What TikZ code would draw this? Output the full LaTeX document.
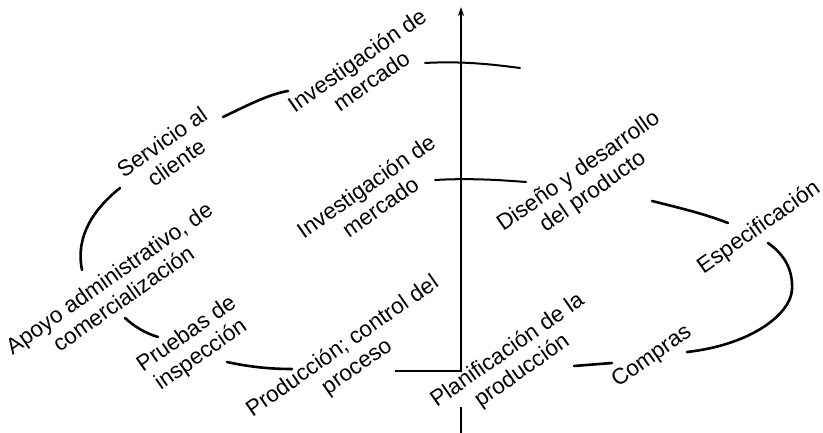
\documentclass[tikz,border=0pt]{standalone}
\usepackage{fontspec}
\setmainfont{Liberation Sans}
\usetikzlibrary{arrows.meta}
\tikzset{
  etapa/.style={rotate=35,align=center,inner sep=0pt,
    font=\fontsize{22.5}{25}\selectfont},
  tramo/.style={line width=2.6pt,line cap=round},
  eje/.style={line width=1.6pt}
}
\begin{document}
\begin{tikzpicture}[x=1pt,y=-1pt]
   \useasboundingbox (0,0) rectangle (823,433);
   % etapas de la espiral
   \node[etapa] (invA) at (364,70)  {Investigación de\\mercado};
   \node[etapa] (invB) at (373,196) {Investigación de\\mercado};
   \node[etapa] (dis)  at (586,182) {Diseño y desarrollo\\del producto};
   \node[etapa] (esp)  at (759,228) {Especificación};
   \node[etapa] (com)  at (652,357) {Compras};
   \node[etapa] (pla)  at (515,361) {Planificación de la\\producción};
   \node[etapa] (pro)  at (350,357) {Producción; control del\\proceso};
   \node[etapa] (pru)  at (194,345) {Pruebas de\\inspección};
   \node[etapa] (apo)  at (116,288) {Apoyo administrativo, de\\comercialización};
   \node[etapa] (ser)  at (169,152) {Servicio al\\cliente};
   % extremos de los tramos
   \coordinate (ser-e) at (223,117);  \coordinate (invA-w) at (288,91);
   \coordinate (apo-n) at (82,270);   \coordinate (ser-s)  at (120,188);
   \coordinate (apo-s) at (125,318);  \coordinate (pru-n)  at (158,337);
   \coordinate (pru-e) at (227,362);  \coordinate (pro-w)  at (292,369);
   \coordinate (pla-e) at (574,366);  \coordinate (com-w)  at (612,363);
   \coordinate (com-e) at (687,352);  \coordinate (esp-s)  at (768,243);
   \coordinate (dis-e) at (652,201);  \coordinate (esp-w)  at (728,223);
   \draw[tramo] (ser-e) .. controls (250,104) and (270,94) .. (invA-w);
   \draw[tramo] (apo-n) .. controls (75,235) and (95,208) .. (ser-s);
   \draw[tramo] (apo-s) .. controls (135,327) and (145,333) .. (pru-n);
   \draw[tramo] (pru-e) .. controls (250,367) and (270,369) .. (pro-w);
   \draw[tramo] (pla-e) -- (com-w);
   \draw[tramo] (com-e) .. controls (750,345) and (790,315) .. (792,290)
                        .. controls (793,270) and (785,255) .. (esp-s);
   \draw[tramo] (dis-e) .. controls (680,208) and (705,214) .. (esp-w);
   % eje
   \coordinate (pie)  at (461,433);
   \coordinate (corte) at (461,407);
   \coordinate (pro-e) at (395,371);
   \coordinate (codo) at (461,371);
   \coordinate (tope) at (461,7);
   \draw[eje] (pie) -- (corte);
   \draw[eje,-{Stealth[length=9pt,width=6pt]}] (pro-e) -- (codo) -- (tope);
   \draw[tramo,line width=2pt] (425,63) .. controls (460,61) and (490,64) .. (520,68);
   \draw[tramo,line width=2pt] (435,180) .. controls (470,178) and (500,180) .. (526,182);
\end{tikzpicture}
\end{document}
